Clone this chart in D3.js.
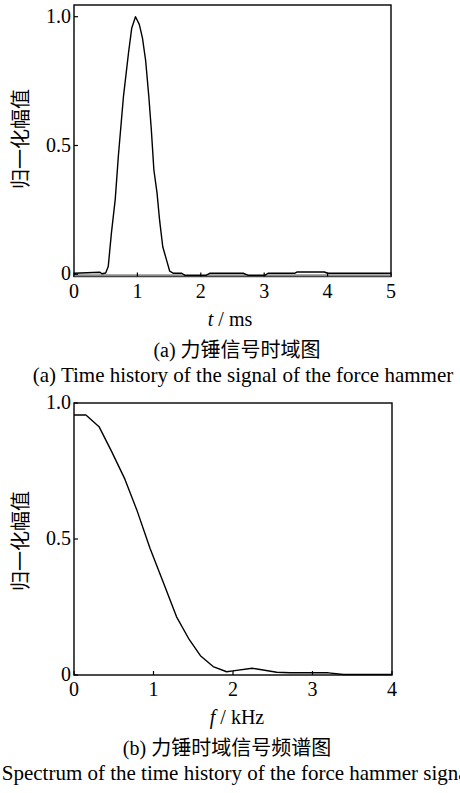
<!DOCTYPE html>
<html lang="zh">
<head>
<meta charset="utf-8">
<title>力锤信号</title>
<script src="https://cdn.jsdelivr.net/npm/d3@7"></script>
<style>
body { margin: 0; background: #fff; }
.num { font-family: "Liberation Serif", "Times New Roman", serif; font-size: 20px; fill: #000; }
.en { font-family: "Liberation Serif", "Times New Roman", serif; font-size: 21px; fill: #000; }
.cn { font-family: "Noto Sans CJK SC", sans-serif; font-size: 20px; fill: #000; }
</style>
</head>
<body>
<script>
var w = 460, h = 793;

// (a) time history
var timeT = [0, 0.41, 0.44, 0.50, 0.54, 0.59, 0.65, 0.70, 0.78, 0.86, 0.91, 0.97, 1.03, 1.08, 1.13, 1.18, 1.22, 1.26, 1.31, 1.35, 1.40, 1.46, 1.51, 1.57, 1.70, 1.75, 2.08, 2.14, 2.67, 2.75, 3.01, 3.06, 3.48, 3.52, 3.95, 4.0, 5.0];
var timeV = [0.004, 0.008, 0.002, 0.005, 0.03, 0.16, 0.29, 0.46, 0.69, 0.86, 0.955, 1.0, 0.97, 0.917, 0.83, 0.69, 0.56, 0.405, 0.315, 0.21, 0.107, 0.055, 0.012, 0.004, 0.004, -0.004, -0.004, 0.004, 0.004, -0.004, -0.004, 0.004, 0.004, 0.009, 0.009, 0.004, 0.004];
var timeTicks = [0, 1, 2, 3, 4, 5];

// (b) spectrum
var freqF = [0, 0.15, 0.315, 0.474, 0.64, 0.79, 0.956, 1.12, 1.29, 1.44, 1.59, 1.75, 1.92, 2.0, 2.24, 2.55, 2.72, 3.2, 3.39, 4.0];
var freqV = [0.956, 0.956, 0.913, 0.821, 0.72, 0.607, 0.466, 0.343, 0.214, 0.135, 0.071, 0.031, 0.012, 0.015, 0.025, 0.01, 0.008, 0.008, 0.002, 0.002];
var freqTicks = [0, 1, 2, 3, 4];

var yTicks = [0, 0.5, 1.0];

var svg = d3.select("body").append("svg")
    .attr("width", w).attr("height", h);

function panel(cfg) {
  var x = d3.scaleLinear().domain(cfg.xDomain).range([74, cfg.right]);
  var y = d3.scaleLinear().domain([0, 1]).range([cfg.y0, cfg.y1]);
  var g = svg.append("g");

  // frame
  g.append("rect")
    .attr("x", 74).attr("y", cfg.top)
    .attr("width", cfg.right - 74).attr("height", cfg.bottom - cfg.top)
    .attr("fill", "none").attr("stroke", "#000").attr("stroke-width", 1.4);

  if (cfg.band) {
    g.append("rect")
      .attr("x", 74).attr("y", y(0))
      .attr("width", cfg.right - 74).attr("height", cfg.bottom - y(0))
      .attr("fill", "#8a8a8a");
  }

  // ticks inside
  g.selectAll(".xt").data(cfg.xTicks).enter().append("line")
    .attr("x1", d => x(d)).attr("x2", d => x(d))
    .attr("y1", cfg.bottom).attr("y2", cfg.bottom - 4)
    .attr("stroke", "#000").attr("stroke-width", 1.2);
  g.selectAll(".yt").data(yTicks).enter().append("line")
    .attr("x1", 74).attr("x2", 78)
    .attr("y1", d => y(d)).attr("y2", d => y(d))
    .attr("stroke", "#000").attr("stroke-width", 1.2);

  g.selectAll(".xl").data(cfg.xTicks).enter().append("text")
    .attr("class", "num")
    .attr("x", d => x(d)).attr("y", cfg.bottom + 21)
    .attr("text-anchor", "middle").text(d => d);
  g.selectAll(".yl").data(yTicks).enter().append("text")
    .attr("class", "num")
    .attr("x", 71).attr("y", d => y(d) + 6)
    .attr("text-anchor", "end").text(d => d === 0 ? "0" : d.toFixed(1));

  var line = d3.line().x(d => x(d[0])).y(d => y(d[1]));
  g.append("path")
    .datum(d3.zip(cfg.xs, cfg.vs))
    .attr("d", line)
    .attr("fill", "none").attr("stroke", "#000").attr("stroke-width", 1.4)
    .attr("stroke-linejoin", "round");

  // y axis title
  g.append("text").attr("class", "cn")
    .attr("transform", "translate(28," + cfg.ylabY + ") rotate(-90)")
    .attr("text-anchor", "middle").text("归一化幅值");

  // x axis title
  var xt = g.append("text").attr("class", "num")
    .attr("x", cfg.xtX).attr("y", cfg.bottom + 49).attr("text-anchor", "middle");
  xt.append("tspan").attr("font-style", "italic").text(cfg.xVar);
  xt.append("tspan").text(" / " + cfg.xUnit);

  var c = g.append("text").attr("class", "num")
    .attr("x", cfg.capX).attr("y", cfg.bottom + 80).attr("text-anchor", "middle");
  c.append("tspan").text("(" + cfg.tag + ")  ");
  c.append("tspan").attr("class", "cn").text(cfg.capCn);

  g.append("text").attr("class", "en")
    .attr("x", cfg.engX).attr("y", cfg.bottom + 105).attr("text-anchor", cfg.engAnchor)
    .text("(" + cfg.tag + ") " + cfg.capEn);
}

panel({
  xDomain: [0, 5], right: 391, top: 5, bottom: 276.5,
  y0: 274.3, y1: 16.7, band: true,
  xTicks: timeTicks, xs: timeT, vs: timeV,
  ylabY: 139, xVar: "t", xUnit: "ms", xtX: 230,
  tag: "a", capCn: "力锤信号时域图", capX: 237,
  capEn: "Time history of the signal of the force hammer", engX: 243, engAnchor: "middle"
});

panel({
  xDomain: [0, 4], right: 392, top: 403, bottom: 675,
  y0: 675, y1: 403, band: false,
  xTicks: freqTicks, xs: freqF, vs: freqV,
  ylabY: 541, xVar: "f", xUnit: "kHz", xtX: 237,
  tag: "b", capCn: "力锤时域信号频谱图", capX: 227,
  capEn: "Spectrum of the time history of the force hammer signal", engX: -28, engAnchor: "start"
});
</script>
</body>
</html>
